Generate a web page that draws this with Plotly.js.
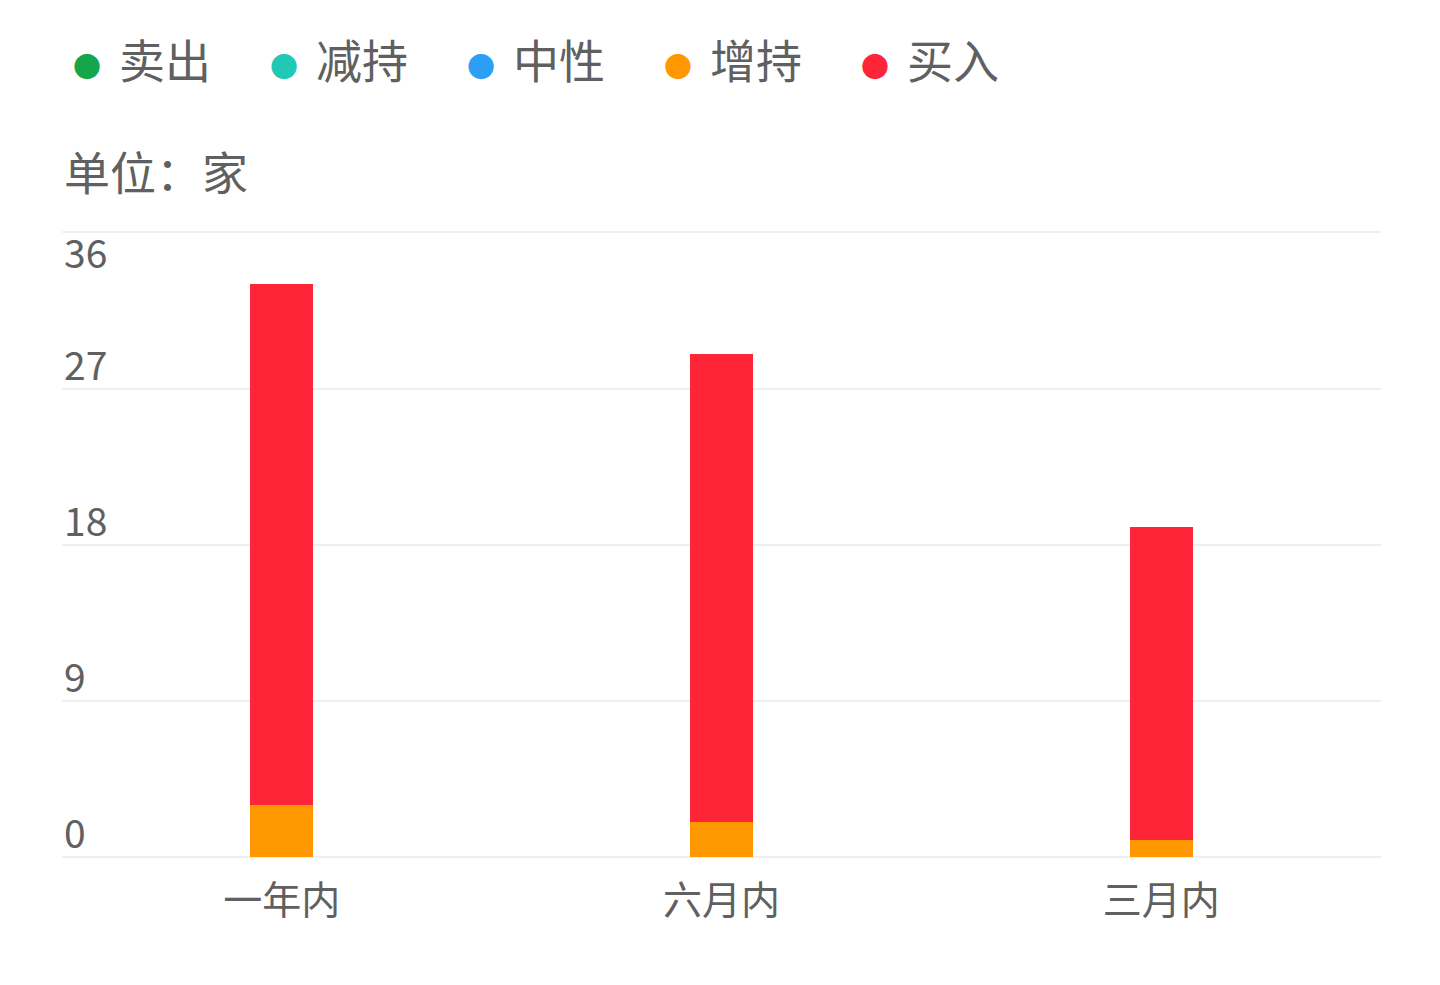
<!DOCTYPE html>
<html>
<head>
<meta charset="utf-8">
<script src="https://cdn.plot.ly/plotly-3.0.1.min.js"></script>
<style>
  html, body { margin: 0; padding: 0; background: #ffffff; }
  #chart { width: 1440px; height: 985px; }
</style>
</head>
<body>
<div id="chart"></div>
<script>
// ---- data ----
const categories = ['一年内', '六月内', '三月内'];
const seriesNames = ['卖出', '减持', '中性', '增持', '买入'];
const sellValues = [0, 0, 0];
const reduceValues = [0, 0, 0];
const neutralValues = [0, 0, 0];
const increaseValues = [3, 2, 1];
const buyValues = [30, 27, 18];
const yTickVals = [0, 9, 18, 27, 36];
const yTickText = ['0', '9', '18', '27', '36'];
const unitLabel = '单位：家';

// ---- styles ----
const colors = ['#16a64a', '#1fc9b6', '#2b9ff5', '#ff9800', '#fe2538'];
const font = '"Noto Sans CJK SC", "Noto Sans", sans-serif';
const textColor = '#606060';
const seriesValues = [sellValues, reduceValues, neutralValues, increaseValues, buyValues];

const traces = [];
seriesValues.forEach((vals, i) => {
  traces.push({
    type: 'bar',
    x: categories,
    y: vals,
    name: seriesNames[i],
    marker: { color: colors[i], line: { width: 0 } },
    showlegend: false,
    hoverinfo: 'x+y+name'
  });
});
// legend entries: coloured round dot drawn as text, symbol hidden
seriesNames.forEach((n, i) => {
  traces.push({
    type: 'scatter',
    mode: 'lines',
    x: [categories[0]],
    y: [null],
    name: '<span style="color:' + colors[i] + ';font-size:28px">●</span><span style="font-size:36px">\u2002</span>' + n,
    line: { color: 'rgba(0,0,0,0)', width: 0 },
    showlegend: true,
    hoverinfo: 'skip'
  });
});

const yMax = Math.max(...yTickVals);
const annotations = yTickVals.map((v, i) => ({
  xref: 'paper', yref: 'y',
  x: 0, y: v,
  xanchor: 'left',
  yanchor: v === yMax ? 'top' : 'bottom',
  yshift: v === yMax ? 11 : -4,
  xshift: 0,
  text: yTickText[i],
  showarrow: false,
  font: { family: font, size: 39, color: textColor }
}));
annotations.push({
  xref: 'paper', yref: 'paper',
  x: 0, y: 1,
  xanchor: 'left', yanchor: 'middle',
  yshift: 61,
  text: unitLabel,
  showarrow: false,
  font: { family: font, size: 46, color: textColor }
});

const layout = {
  width: 1440,
  height: 985,
  paper_bgcolor: '#ffffff',
  plot_bgcolor: '#ffffff',
  margin: { l: 62, r: 59, t: 231, b: 128 },
  barmode: 'stack',
  bargap: 0.857,
  showlegend: true,
  legend: {
    orientation: 'h',
    x: -0.022, xanchor: 'left',
    y: 1.3307, yanchor: 'top',
    font: { family: font, size: 46, color: textColor },
    itemwidth: 30,
    entrywidth: 152,
    entrywidthmode: 'pixels',
    bgcolor: 'rgba(0,0,0,0)',
    traceorder: 'normal'
  },
  xaxis: {
    type: 'category',
    showgrid: false,
    zeroline: false,
    showline: false,
    ticks: '',
    ticklabelstandoff: 17,
    tickfont: { family: font, size: 39, color: textColor }
  },
  yaxis: {
    range: [0, 36.08],
    tickvals: yTickVals,
    showticklabels: false,
    showgrid: true,
    gridcolor: '#efefef',
    gridwidth: 2,
    zeroline: true,
    zerolinecolor: '#efefef',
    zerolinewidth: 2,
    showline: false,
    fixedrange: true
  },
  annotations: annotations,
  hovermode: 'closest'
};

Plotly.newPlot('chart', traces, layout, { displayModeBar: false, staticPlot: true });
</script>
</body>
</html>
